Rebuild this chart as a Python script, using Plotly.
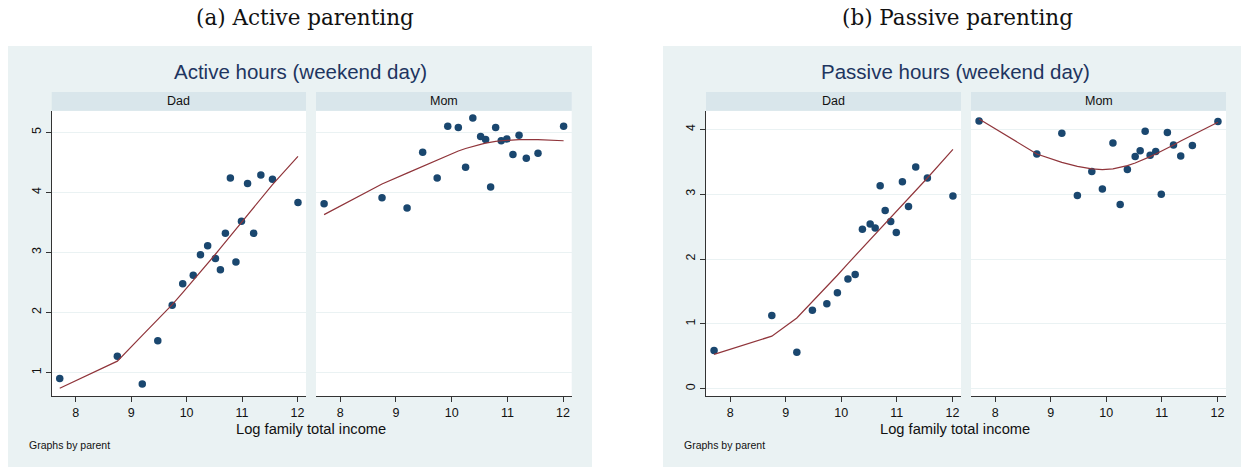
import plotly.graph_objects as go

W, H = 1241, 467

# ---------------- data ----------------
income_bins = [7.71, 8.75, 9.20, 9.48, 9.74, 9.93, 10.12, 10.25, 10.38, 10.52,
               10.61, 10.70, 10.79, 10.89, 10.99, 11.10, 11.21, 11.34, 11.55, 12.01]

active_dad = [0.90, 1.27, 0.81, 1.53, 2.12, 2.48, 2.62, 2.96, 3.11, 2.90,
              2.71, 3.32, 4.24, 2.84, 3.52, 4.15, 3.32, 4.29, 4.22, 3.83]
active_mom = [3.81, 3.91, 3.74, 4.67, 4.24, 5.10, 5.08, 4.42, 5.24, 4.93,
              4.88, 4.09, 5.08, 4.86, 4.89, 4.63, 4.95, 4.57, 4.65, 5.10]
passive_dad = [0.59, 1.13, 0.56, 1.21, 1.31, 1.48, 1.69, 1.76, 2.46, 2.54,
               2.48, 3.13, 2.75, 2.58, 2.41, 3.19, 2.81, 3.42, 3.25, 2.97]
passive_mom = [4.13, 3.62, 3.94, 2.98, 3.35, 3.08, 3.79, 2.84, 3.38, 3.58,
               3.67, 3.97, 3.60, 3.66, 3.00, 3.95, 3.76, 3.59, 3.75, 4.12]

# fitted lines
active_dad_fit = [0.74, 1.19, 1.62, 1.88, 2.13, 2.33, 2.53, 2.67, 2.82, 2.97,
                  3.07, 3.17, 3.27, 3.38, 3.50, 3.62, 3.75, 3.89, 4.13, 4.60]
active_mom_fit = [3.63, 4.14, 4.32, 4.43, 4.54, 4.62, 4.69, 4.73, 4.77, 4.80,
                  4.82, 4.84, 4.85, 4.86, 4.87, 4.88, 4.88, 4.88, 4.88, 4.86]
passive_dad_fit = [0.53, 0.81, 1.09, 1.34, 1.58, 1.75, 1.93, 2.05, 2.17, 2.30,
                   2.38, 2.46, 2.55, 2.64, 2.74, 2.84, 2.94, 3.06, 3.25, 3.69]
passive_mom_fit = [4.16, 3.62, 3.49, 3.43, 3.39, 3.38, 3.39, 3.41, 3.44, 3.48,
                   3.51, 3.54, 3.58, 3.62, 3.66, 3.71, 3.76, 3.82, 3.91, 4.11]

x_ticks = [8, 9, 10, 11, 12]
active_y_ticks = [1, 2, 3, 4, 5]
passive_y_ticks = [0, 1, 2, 3, 4]

panel_titles = ["(a) Active parenting", "(b) Passive parenting"]
chart_titles = ["Active hours (weekend day)", "Passive hours (weekend day)"]
strip_labels = ["Dad", "Mom"]
x_title = "Log family total income"
note = "Graphs by parent"

# ---------------- style ----------------
BG = "#EAF2F3"
STRIP = "#D9E6EB"
MARK = "#1A476F"
LINE = "#90353B"
TITLE_C = "#1E3560"
AX = "#333333"
SANS = "Liberation Sans, Arial, sans-serif"
SERIF = "DejaVu Serif, serif"

def px(x):
    return x / W

def py(y):
    return 1 - y / H

# plot-area boxes in pixels: (x0, x1)
boxes = [(51.7, 306.0), (316.0, 571.7), (706.0, 961.0), (971.0, 1226.0)]
PY0, PY1 = 111.0, 396.0
STRIP_Y0, STRIP_Y1 = 92.0, 110.7

series = [
    (active_dad, active_dad_fit),
    (active_mom, active_mom_fit),
    (passive_dad, passive_dad_fit),
    (passive_mom, passive_mom_fit),
]

fig = go.Figure()
for i, (ys, fit) in enumerate(series):
    xa = "x" if i == 0 else f"x{i+1}"
    ya = "y" if i == 0 else f"y{i+1}"
    fig.add_trace(go.Scatter(x=income_bins, y=ys, mode="markers",
                             marker=dict(color=MARK, size=7.5, line=dict(width=0)),
                             xaxis=xa, yaxis=ya, showlegend=False, hoverinfo="skip"))
    fig.add_trace(go.Scatter(x=income_bins, y=fit, mode="lines",
                             line=dict(color=LINE, width=1.2),
                             xaxis=xa, yaxis=ya, showlegend=False, hoverinfo="skip"))

layout = dict(
    width=W, height=H,
    margin=dict(l=0, r=0, t=0, b=0),
    paper_bgcolor="white",
    plot_bgcolor="rgba(0,0,0,0)",
    showlegend=False,
)

shapes = []
annotations = []
# outer backgrounds
for (x0, x1) in [(8, 592), (663, 1241)]:
    shapes.append(dict(type="rect", xref="paper", yref="paper", x0=px(x0), x1=px(x1),
                       y0=py(467), y1=py(46), fillcolor=BG, line=dict(width=0), layer="below"))

for i, (x0, x1) in enumerate(boxes):
    n = "" if i == 0 else str(i + 1)
    active = i < 2
    dad = i % 2 == 0
    yr = [0.61, 5.355] if active else [-0.113, 4.283]
    yt = active_y_ticks if active else passive_y_ticks
    layout[f"xaxis{n}"] = dict(
        domain=[px(x0), px(x1)], anchor=f"y{n}", range=[7.565, 12.155],
        tickvals=x_ticks, ticks="outside", ticklen=5, tickwidth=1, tickcolor=AX,
        showline=True, linecolor=AX, linewidth=1, showgrid=False, zeroline=False,
        tickfont=dict(family=SANS, size=12.5, color="#111111"),
        fixedrange=True,
    )
    layout[f"yaxis{n}"] = dict(
        domain=[py(PY1), py(PY0)], anchor=f"x{n}", range=yr,
        tickvals=yt, ticks="outside" if dad else "", ticklen=5, tickwidth=1, tickcolor=AX,
        showticklabels=dad, tickangle=-90,
        showline=dad, linecolor=AX, linewidth=1,
        showgrid=True, gridcolor=BG, gridwidth=1.2, zeroline=False,
        tickfont=dict(family=SANS, size=12.5, color="#111111"),
        fixedrange=True,
    )
    # white plot area
    shapes.append(dict(type="rect", xref="paper", yref="paper", x0=px(x0), x1=px(x1),
                       y0=py(PY1), y1=py(PY0), fillcolor="white", line=dict(width=0), layer="below"))
    # strip
    shapes.append(dict(type="rect", xref="paper", yref="paper", x0=px(x0), x1=px(x1),
                       y0=py(STRIP_Y1), y1=py(STRIP_Y0), fillcolor=STRIP, line=dict(width=0), layer="below"))
    annotations.append(dict(text=strip_labels[i % 2], xref="paper", yref="paper",
                            x=px((x0 + x1) / 2), y=py((STRIP_Y0 + STRIP_Y1) / 2),
                            showarrow=False, xanchor="center", yanchor="middle",
                            font=dict(family=SANS, size=12.5, color="#111111")))

for k, cx in enumerate([305, 957]):
    annotations.append(dict(text=panel_titles[k], xref="paper", yref="paper",
                            x=px(cx), y=py(17), showarrow=False, xanchor="center", yanchor="middle",
                            font=dict(family=SERIF, size=21.5, color="#111111")))
for k, cx in enumerate([300, 955]):
    annotations.append(dict(text=chart_titles[k], xref="paper", yref="paper",
                            x=px(cx), y=py(71), showarrow=False, xanchor="center", yanchor="middle",
                            font=dict(family=SANS, size=20.5, color=TITLE_C)))
for cx in [311, 955]:
    annotations.append(dict(text=x_title, xref="paper", yref="paper",
                            x=px(cx), y=py(429), showarrow=False, xanchor="center", yanchor="middle",
                            font=dict(family=SANS, size=14.7, color="#111111")))
for lx in [26.5, 681.5]:
    annotations.append(dict(text=note, xref="paper", yref="paper",
                            x=px(lx), y=py(445), showarrow=False, xanchor="left", yanchor="middle",
                            font=dict(family=SANS, size=10.5, color="#111111")))

layout["shapes"] = shapes
layout["annotations"] = annotations
fig.update_layout(**layout)
fig.write_html("out.html", config={"displayModeBar": False},
               post_script="document.body.style.margin='0';")
